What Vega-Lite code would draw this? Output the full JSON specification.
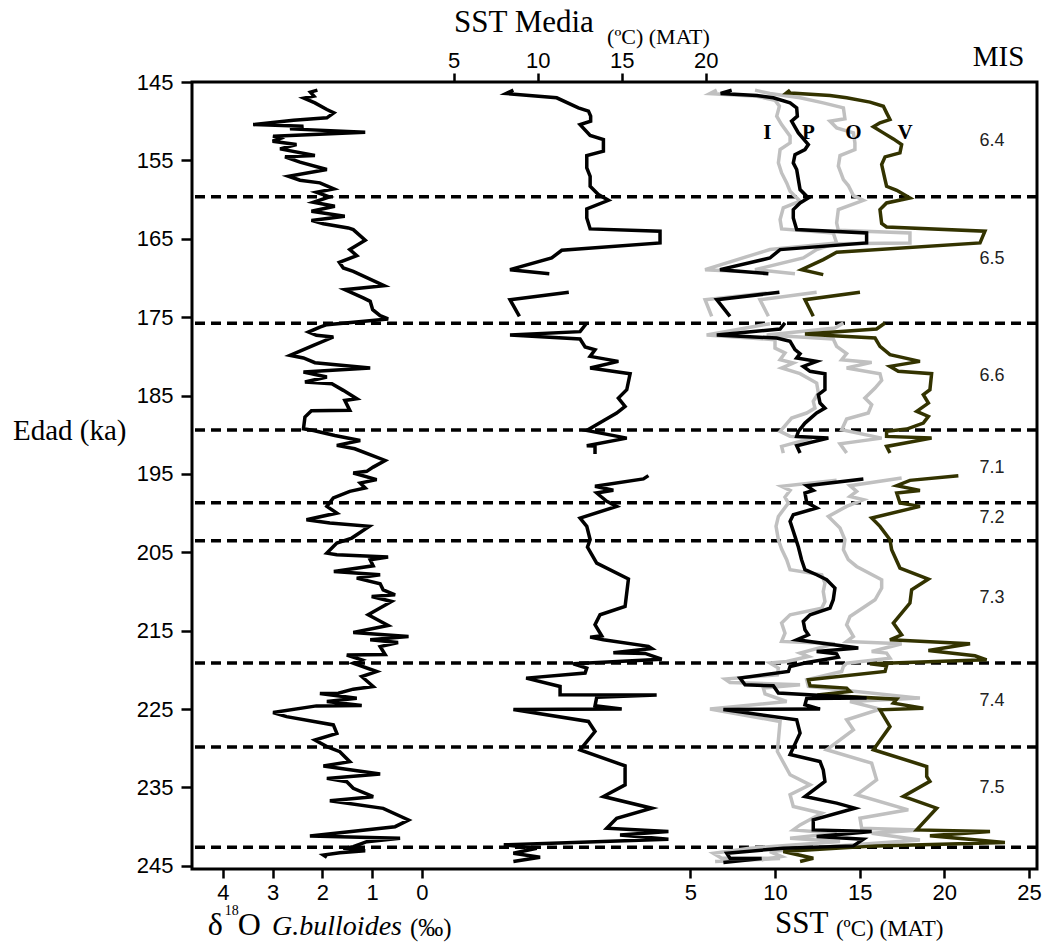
{
  "$schema": "https://vega.github.io/schema/vega-lite/v6.json",
  "width": 845,
  "height": 787,
  "autosize": "none",
  "padding": {"left": 192, "top": 82, "right": 13, "bottom": 75},
  "background": "white",
  "config": {
    "view": {"stroke": "black", "strokeWidth": 3},
    "axis": {"domain": false, "grid": false, "tickColor": "black", "tickWidth": 2.5, "tickSize": 9, "labelFont": "Liberation Sans", "labelFontSize": 22, "labelColor": "black", "labelPadding": 4, "titleColor": "black"}
  },
  "datasets": {
    "bounds": [{"age": 159.65}, {"age": 175.78}, {"age": 189.41}, {"age": 198.68}, {"age": 203.53}, {"age": 219.11}, {"age": 229.84}, {"age": 242.61}],
    "mis": [{"mis": "6.4", "age": 152.56}, {"mis": "6.5", "age": 167.57}, {"mis": "6.6", "age": 182.55}, {"mis": "7.1", "age": 194.3}, {"mis": "7.2", "age": 200.62}, {"mis": "7.3", "age": 210.84}, {"mis": "7.4", "age": 224.0}, {"mis": "7.5", "age": 235.08}],
    "lab": [{"t": "I", "age": 151.5, "v": 9.55}, {"t": "P", "age": 151.5, "v": 11.97}, {"t": "O", "age": 151.5, "v": 14.63}, {"t": "V", "age": 151.5, "v": 17.69}],
    "d18o": [
      {"age":146.04,"v":2.10},{"age":146.30,"v":2.24},{"age":146.81,"v":2.17},{"age":147.06,"v":2.37},{"age":147.66,"v":2.15},{"age":148.51,"v":1.91},{"age":148.94,"v":1.77},{"age":149.57,"v":1.91},{"age":149.87,"v":2.58},{"age":150.43,"v":3.39},{"age":150.64,"v":2.38},{"age":150.98,"v":2.65},{"age":151.40,"v":1.14},{"age":151.91,"v":2.99},{"age":152.21,"v":2.85},{"age":152.55,"v":3.00},{"age":152.98,"v":2.52},{"age":153.53,"v":2.85},{"age":154.38,"v":2.15},{"age":154.55,"v":2.75},{"age":155.23,"v":2.45},{"age":156.17,"v":1.91},{"age":157.02,"v":2.68},{"age":157.53,"v":2.45},{"age":157.87,"v":2.05},{"age":158.64,"v":1.77},{"age":159.06,"v":2.12},{"age":159.66,"v":1.86},{"age":160.34,"v":2.18},{"age":160.85,"v":1.75},{"age":161.49,"v":2.22},{"age":162.13,"v":1.55},{"age":162.66,"v":2.22},{"age":163.09,"v":1.98},{"age":163.62,"v":1.48},{"age":163.83,"v":1.38},{"age":165.19,"v":1.14},{"age":166.38,"v":1.45},{"age":167.15,"v":1.31},{"age":168.00,"v":1.66},{"age":168.72,"v":1.58},{"age":169.15,"v":1.38},{"age":170.98,"v":0.76},{"age":171.49,"v":1.55},{"age":172.55,"v":1.18},{"age":172.98,"v":1.04},{"age":174.04,"v":0.99},{"age":174.81,"v":0.84},{"age":175.23,"v":0.68},{"age":175.96,"v":1.91},{"age":176.26,"v":2.05},{"age":176.90,"v":2.28},{"age":177.32,"v":2.12},{"age":177.53,"v":1.78},{"age":178.60,"v":2.18},{"age":179.87,"v":2.65},{"age":180.21,"v":2.38},{"age":180.81,"v":2.15},{"age":181.49,"v":1.04},{"age":182.00,"v":2.38},{"age":182.64,"v":1.91},{"age":183.28,"v":2.35},{"age":183.49,"v":1.81},{"age":184.34,"v":1.58},{"age":185.40,"v":1.31},{"age":185.62,"v":1.55},{"age":186.89,"v":1.45},{"age":186.95,"v":2.22},{"age":187.74,"v":2.35},{"age":189.23,"v":2.38},{"age":189.45,"v":2.18},{"age":190.09,"v":1.75},{"age":190.73,"v":1.24},{"age":191.36,"v":1.71},{"age":191.79,"v":1.35},{"age":193.28,"v":0.74},{"age":194.13,"v":0.98},{"age":194.67,"v":1.11},{"age":194.88,"v":1.38},{"age":195.73,"v":0.91},{"age":196.16,"v":1.24},{"age":196.80,"v":1.14},{"age":197.22,"v":1.45},{"age":198.07,"v":1.78},{"age":199.14,"v":1.91},{"age":199.99,"v":1.71},{"age":200.84,"v":2.32},{"age":201.27,"v":1.85},{"age":201.69,"v":1.06},{"age":203.18,"v":1.41},{"age":203.82,"v":1.71},{"age":205.10,"v":1.91},{"age":205.31,"v":1.71},{"age":205.61,"v":0.68},{"age":205.95,"v":1.04},{"age":206.72,"v":0.98},{"age":207.44,"v":1.77},{"age":207.87,"v":0.84},{"age":208.29,"v":1.31},{"age":209.02,"v":0.84},{"age":209.78,"v":0.78},{"age":210.42,"v":0.54},{"age":210.63,"v":1.01},{"age":211.27,"v":0.61},{"age":212.97,"v":1.08},{"age":214.33,"v":0.68},{"age":215.23,"v":1.38},{"age":215.74,"v":0.27},{"age":216.16,"v":1.04},{"age":216.50,"v":0.48},{"age":217.02,"v":0.84},{"age":218.05,"v":0.74},{"age":218.10,"v":1.51},{"age":218.72,"v":1.21},{"age":219.14,"v":1.38},{"age":220.21,"v":0.91},{"age":220.84,"v":1.21},{"age":222.12,"v":0.98},{"age":222.46,"v":1.38},{"age":222.97,"v":1.68},{"age":223.00,"v":2.05},{"age":223.61,"v":1.31},{"age":224.04,"v":1.91},{"age":224.55,"v":1.21},{"age":224.59,"v":2.12},{"age":225.44,"v":2.99},{"age":225.96,"v":2.72},{"age":227.02,"v":1.78},{"age":228.09,"v":1.71},{"age":228.94,"v":2.15},{"age":229.79,"v":1.91},{"age":230.43,"v":1.65},{"age":231.71,"v":1.45},{"age":232.26,"v":1.98},{"age":233.28,"v":0.84},{"age":233.84,"v":1.91},{"age":234.26,"v":1.51},{"age":235.11,"v":1.38},{"age":236.18,"v":0.98},{"age":236.69,"v":1.85},{"age":237.66,"v":0.78},{"age":239.15,"v":0.27},{"age":240.00,"v":0.54},{"age":241.19,"v":2.25},{"age":241.49,"v":0.44},{"age":241.92,"v":1.11},{"age":242.56,"v":1.38},{"age":242.77,"v":1.58},{"age":243.07,"v":1.14},{"age":243.32,"v":1.65},{"age":243.62,"v":1.98},{"age":243.91,"v":1.91}
    ],
    "media": [
      {"seg":1,"age":146.04,"v":8.55},{"seg":1,"age":146.47,"v":8.12},{"seg":1,"age":147.02,"v":11.13},{"seg":1,"age":148.30,"v":12.42},{"seg":1,"age":148.72,"v":13.02},{"seg":1,"age":149.36,"v":13.15},{"seg":1,"age":150.00,"v":13.15},{"seg":1,"age":150.43,"v":12.52},{"seg":1,"age":151.83,"v":13.12},{"seg":1,"age":152.34,"v":13.91},{"seg":1,"age":153.83,"v":13.91},{"seg":1,"age":154.38,"v":12.92},{"seg":1,"age":155.96,"v":12.92},{"seg":1,"age":157.02,"v":13.12},{"seg":1,"age":158.30,"v":13.12},{"seg":1,"age":159.36,"v":13.61},{"seg":1,"age":160.09,"v":14.21},{"seg":1,"age":161.19,"v":12.92},{"seg":1,"age":162.34,"v":12.92},{"seg":1,"age":163.74,"v":13.12},{"seg":1,"age":164.04,"v":17.28},{"seg":1,"age":165.53,"v":17.28},{"seg":1,"age":166.47,"v":11.43},{"seg":1,"age":167.45,"v":10.83},{"seg":1,"age":168.94,"v":8.35},{"seg":1,"age":169.45,"v":10.69},
      {"seg":2,"age":171.83,"v":11.85},{"seg":2,"age":172.77,"v":8.35},{"seg":2,"age":174.89,"v":8.91},
      {"seg":3,"age":175.74,"v":12.92},{"seg":3,"age":176.85,"v":12.52},{"seg":3,"age":177.28,"v":8.35},{"seg":3,"age":177.79,"v":12.52},{"seg":3,"age":178.81,"v":12.82},{"seg":3,"age":179.15,"v":13.41},{"seg":3,"age":180.00,"v":13.12},{"seg":3,"age":180.64,"v":14.80},{"seg":3,"age":181.49,"v":13.12},{"seg":3,"age":182.21,"v":15.50},{"seg":3,"age":184.26,"v":15.30},{"seg":3,"age":185.32,"v":14.80},{"seg":3,"age":186.38,"v":15.20},{"seg":3,"age":187.23,"v":14.70},{"seg":3,"age":188.09,"v":14.01},{"seg":3,"age":189.45,"v":12.92},{"seg":3,"age":190.43,"v":15.30},{"seg":3,"age":191.40,"v":12.92},{"seg":3,"age":191.45,"v":13.41},{"seg":3,"age":192.47,"v":13.41},
      {"seg":4,"age":195.22,"v":16.59},{"seg":4,"age":195.64,"v":16.29},{"seg":4,"age":196.58,"v":13.41},{"seg":4,"age":197.09,"v":14.50},{"seg":4,"age":197.43,"v":13.51},{"seg":4,"age":198.50,"v":14.11},{"seg":4,"age":199.14,"v":14.70},{"seg":4,"age":200.63,"v":12.52},{"seg":4,"age":201.69,"v":12.92},{"seg":4,"age":203.39,"v":13.12},{"seg":4,"age":204.33,"v":12.96},{"seg":4,"age":206.37,"v":13.51},{"seg":4,"age":208.41,"v":15.40},{"seg":4,"age":211.90,"v":15.20},{"seg":4,"age":212.97,"v":13.71},{"seg":4,"age":214.24,"v":13.41},{"seg":4,"age":215.65,"v":13.81},{"seg":4,"age":215.82,"v":13.12},{"seg":4,"age":216.16,"v":13.91},{"seg":4,"age":217.00,"v":16.59},{"seg":4,"age":217.27,"v":16.79},{"seg":4,"age":217.82,"v":14.50},{"seg":4,"age":217.90,"v":16.39},{"seg":4,"age":218.63,"v":17.38},{"seg":4,"age":219.22,"v":12.12},{"seg":4,"age":219.77,"v":12.92},{"seg":4,"age":220.41,"v":12.82},{"seg":4,"age":221.05,"v":9.31},{"seg":4,"age":222.11,"v":11.33},{"seg":4,"age":223.18,"v":11.33},{"seg":4,"age":223.20,"v":17.08},{"seg":4,"age":223.50,"v":13.51},{"seg":4,"age":224.58,"v":13.41},{"seg":4,"age":225.00,"v":15.00},{"seg":4,"age":225.05,"v":8.55},{"seg":4,"age":226.58,"v":13.02},{"seg":4,"age":227.86,"v":13.41},{"seg":4,"age":230.20,"v":12.52},{"seg":4,"age":232.24,"v":15.20},{"seg":4,"age":234.67,"v":15.20},{"seg":4,"age":236.16,"v":13.91},{"seg":4,"age":237.65,"v":16.79},{"seg":4,"age":238.92,"v":14.70},{"seg":4,"age":240.20,"v":14.11},{"seg":4,"age":240.63,"v":17.78},{"seg":4,"age":241.05,"v":14.90},{"seg":4,"age":241.61,"v":17.78},{"seg":4,"age":242.32,"v":7.98},{"seg":4,"age":242.75,"v":9.94},{"seg":4,"age":243.39,"v":8.55},{"seg":4,"age":243.90,"v":10.14},{"seg":4,"age":244.45,"v":8.55}
    ],
    "I": [
      {"seg":1,"age":146.04,"v":6.56},{"seg":1,"age":146.47,"v":6.16},{"seg":1,"age":146.81,"v":8.92},{"seg":1,"age":147.32,"v":10.00},{"seg":1,"age":148.09,"v":10.26},{"seg":1,"age":149.36,"v":10.10},{"seg":1,"age":150.43,"v":10.39},{"seg":1,"age":151.91,"v":10.89},{"seg":1,"age":152.77,"v":10.89},{"seg":1,"age":153.62,"v":10.30},{"seg":1,"age":155.32,"v":10.20},{"seg":1,"age":156.60,"v":10.39},{"seg":1,"age":157.87,"v":10.69},{"seg":1,"age":158.94,"v":10.89},{"seg":1,"age":160.21,"v":11.48},{"seg":1,"age":161.06,"v":10.49},{"seg":1,"age":162.55,"v":10.30},{"seg":1,"age":163.74,"v":10.39},{"seg":1,"age":164.26,"v":13.44},{"seg":1,"age":165.53,"v":13.64},{"seg":1,"age":166.38,"v":9.70},{"seg":1,"age":166.89,"v":8.92},{"seg":1,"age":168.94,"v":5.87},{"seg":1,"age":169.19,"v":7.93},
      {"seg":2,"age":171.91,"v":9.51},{"seg":2,"age":172.77,"v":5.87},{"seg":2,"age":174.89,"v":6.26},
      {"seg":3,"age":175.83,"v":9.70},{"seg":3,"age":177.28,"v":5.96},{"seg":3,"age":177.87,"v":10.00},{"seg":3,"age":178.94,"v":10.00},{"seg":3,"age":179.57,"v":10.59},{"seg":3,"age":180.43,"v":10.30},{"seg":3,"age":180.85,"v":11.08},{"seg":3,"age":181.49,"v":10.39},{"seg":3,"age":182.21,"v":11.48},{"seg":3,"age":183.40,"v":12.46},{"seg":3,"age":184.68,"v":12.56},{"seg":3,"age":185.74,"v":12.26},{"seg":3,"age":186.60,"v":12.36},{"seg":3,"age":187.23,"v":11.87},{"seg":3,"age":187.87,"v":10.98},{"seg":3,"age":189.57,"v":10.30},{"seg":3,"age":190.21,"v":10.89},{"seg":3,"age":190.43,"v":12.17},{"seg":3,"age":191.49,"v":10.39},{"seg":3,"age":192.34,"v":10.49},
      {"seg":4,"age":195.82,"v":13.64},{"seg":4,"age":196.58,"v":10.39},{"seg":4,"age":197.10,"v":10.89},{"seg":4,"age":197.95,"v":10.59},{"seg":4,"age":198.71,"v":10.79},{"seg":4,"age":200.42,"v":10.20},{"seg":4,"age":201.69,"v":10.06},{"seg":4,"age":203.39,"v":10.20},{"seg":4,"age":204.58,"v":10.39},{"seg":4,"age":205.94,"v":10.69},{"seg":4,"age":207.22,"v":10.89},{"seg":4,"age":207.86,"v":12.76},{"seg":4,"age":208.92,"v":12.95},{"seg":4,"age":209.99,"v":12.85},{"seg":4,"age":211.26,"v":12.95},{"seg":4,"age":212.12,"v":12.76},{"seg":4,"age":212.97,"v":10.89},{"seg":4,"age":214.03,"v":10.39},{"seg":4,"age":215.31,"v":10.59},{"seg":4,"age":216.37,"v":10.39},{"seg":4,"age":216.67,"v":13.54},{"seg":4,"age":217.86,"v":11.48},{"seg":4,"age":218.29,"v":11.97},{"seg":4,"age":218.93,"v":10.69},{"seg":4,"age":219.13,"v":9.70},{"seg":4,"age":219.77,"v":10.20},{"seg":4,"age":220.62,"v":10.14},{"seg":4,"age":221.17,"v":7.05},{"seg":4,"age":221.60,"v":7.34},{"seg":4,"age":221.90,"v":11.48},{"seg":4,"age":222.32,"v":9.31},{"seg":4,"age":223.05,"v":9.41},{"seg":4,"age":224.03,"v":10.69},{"seg":4,"age":225.00,"v":6.16},{"seg":4,"age":226.58,"v":10.30},{"seg":4,"age":230.41,"v":10.14},{"seg":4,"age":233.38,"v":10.89},{"seg":4,"age":234.66,"v":12.07},{"seg":4,"age":235.93,"v":10.89},{"seg":4,"age":237.43,"v":11.08},{"seg":4,"age":238.28,"v":12.76},{"seg":4,"age":239.77,"v":11.48},{"seg":4,"age":240.41,"v":11.08},{"seg":4,"age":240.83,"v":13.64},{"seg":4,"age":241.47,"v":10.89},{"seg":4,"age":241.90,"v":13.84},{"seg":4,"age":242.75,"v":8.52},{"seg":4,"age":243.39,"v":6.36},{"seg":4,"age":244.03,"v":6.85},{"seg":4,"age":244.05,"v":10.30},{"seg":4,"age":244.45,"v":6.46}
    ],
    "O": [
      {"seg":1,"age":146.04,"v":8.82},{"seg":1,"age":146.47,"v":9.70},{"seg":1,"age":147.02,"v":11.48},{"seg":1,"age":147.66,"v":12.85},{"seg":1,"age":148.30,"v":14.04},{"seg":1,"age":149.70,"v":14.13},{"seg":1,"age":150.00,"v":13.25},{"seg":1,"age":150.85,"v":13.64},{"seg":1,"age":151.49,"v":14.63},{"seg":1,"age":152.77,"v":14.72},{"seg":1,"age":153.62,"v":14.72},{"seg":1,"age":154.38,"v":13.84},{"seg":1,"age":155.74,"v":13.74},{"seg":1,"age":157.45,"v":14.04},{"seg":1,"age":158.21,"v":14.33},{"seg":1,"age":159.49,"v":14.63},{"seg":1,"age":160.09,"v":15.22},{"seg":1,"age":161.28,"v":13.74},{"seg":1,"age":162.98,"v":13.64},{"seg":1,"age":163.91,"v":13.74},{"seg":1,"age":164.26,"v":17.97},{"seg":1,"age":165.53,"v":17.97},{"seg":1,"age":165.62,"v":13.54},{"seg":1,"age":166.38,"v":12.46},{"seg":1,"age":167.45,"v":11.67},{"seg":1,"age":168.94,"v":8.82},{"seg":1,"age":169.45,"v":11.18},
      {"seg":2,"age":171.83,"v":12.46},{"seg":2,"age":172.77,"v":9.11},{"seg":2,"age":174.89,"v":9.61},
      {"seg":3,"age":175.74,"v":14.04},{"seg":3,"age":176.38,"v":13.54},{"seg":3,"age":177.28,"v":9.51},{"seg":3,"age":177.79,"v":13.44},{"seg":3,"age":178.72,"v":13.64},{"seg":3,"age":179.66,"v":14.23},{"seg":3,"age":180.43,"v":13.94},{"seg":3,"age":180.77,"v":15.71},{"seg":3,"age":181.49,"v":14.23},{"seg":3,"age":182.21,"v":16.20},{"seg":3,"age":183.06,"v":16.30},{"seg":3,"age":184.04,"v":15.91},{"seg":3,"age":185.32,"v":15.31},{"seg":3,"age":186.17,"v":15.71},{"seg":3,"age":187.23,"v":15.51},{"seg":3,"age":188.00,"v":14.23},{"seg":3,"age":189.36,"v":13.94},{"seg":3,"age":190.43,"v":16.30},{"seg":3,"age":191.15,"v":13.84},{"seg":3,"age":192.34,"v":14.23},
      {"seg":4,"age":195.52,"v":17.48},{"seg":4,"age":196.50,"v":14.43},{"seg":4,"age":197.22,"v":14.82},{"seg":4,"age":197.86,"v":14.43},{"seg":4,"age":198.29,"v":15.22},{"seg":4,"age":199.14,"v":14.23},{"seg":4,"age":200.42,"v":13.15},{"seg":4,"age":201.90,"v":13.84},{"seg":4,"age":203.39,"v":14.13},{"seg":4,"age":204.67,"v":14.04},{"seg":4,"age":205.94,"v":14.33},{"seg":4,"age":206.80,"v":14.82},{"seg":4,"age":208.50,"v":16.30},{"seg":4,"age":209.56,"v":16.30},{"seg":4,"age":211.05,"v":15.91},{"seg":4,"age":213.18,"v":14.43},{"seg":4,"age":214.24,"v":14.23},{"seg":4,"age":215.73,"v":14.63},{"seg":4,"age":216.37,"v":14.23},{"seg":4,"age":216.67,"v":17.48},{"seg":4,"age":217.65,"v":15.71},{"seg":4,"age":217.86,"v":16.59},{"seg":4,"age":218.50,"v":16.79},{"seg":4,"age":219.14,"v":14.23},{"seg":4,"age":219.56,"v":14.04},{"seg":4,"age":220.20,"v":13.94},{"seg":4,"age":221.26,"v":11.87},{"seg":4,"age":222.11,"v":11.97},{"seg":4,"age":222.62,"v":14.23},{"seg":4,"age":223.60,"v":18.56},{"seg":4,"age":224.03,"v":14.43},{"seg":4,"age":225.00,"v":16.20},{"seg":4,"age":226.36,"v":14.23},{"seg":4,"age":227.64,"v":14.63},{"seg":4,"age":230.19,"v":13.05},{"seg":4,"age":231.90,"v":15.71},{"seg":4,"age":234.02,"v":16.00},{"seg":4,"age":235.93,"v":14.82},{"seg":4,"age":237.85,"v":17.87},{"seg":4,"age":238.92,"v":15.02},{"seg":4,"age":240.20,"v":15.12},{"seg":4,"age":240.41,"v":18.56},{"seg":4,"age":240.83,"v":15.71},{"seg":4,"age":241.70,"v":18.56},{"seg":4,"age":242.53,"v":13.25},{"seg":4,"age":243.17,"v":9.70},{"seg":4,"age":243.81,"v":10.39},{"seg":4,"age":244.24,"v":9.21}
    ],
    "V": [
      {"seg":1,"age":146.04,"v":10.89},{"seg":1,"age":146.38,"v":10.69},{"seg":1,"age":146.72,"v":13.25},{"seg":1,"age":147.02,"v":14.23},{"seg":1,"age":147.57,"v":15.61},{"seg":1,"age":148.09,"v":16.40},{"seg":1,"age":148.94,"v":16.59},{"seg":1,"age":149.79,"v":16.79},{"seg":1,"age":150.21,"v":16.20},{"seg":1,"age":150.72,"v":15.81},{"seg":1,"age":151.49,"v":16.40},{"seg":1,"age":152.26,"v":16.99},{"seg":1,"age":152.98,"v":17.48},{"seg":1,"age":154.04,"v":17.38},{"seg":1,"age":154.55,"v":16.50},{"seg":1,"age":155.53,"v":16.30},{"seg":1,"age":157.45,"v":16.50},{"seg":1,"age":158.30,"v":16.59},{"seg":1,"age":158.81,"v":17.19},{"seg":1,"age":159.79,"v":17.97},{"seg":1,"age":160.43,"v":16.59},{"seg":1,"age":161.28,"v":16.20},{"seg":1,"age":163.06,"v":16.30},{"seg":1,"age":163.49,"v":16.59},{"seg":1,"age":164.04,"v":22.40},{"seg":1,"age":165.53,"v":22.11},{"seg":1,"age":166.72,"v":13.64},{"seg":1,"age":167.66,"v":12.85},{"seg":1,"age":168.94,"v":11.57},{"seg":1,"age":169.57,"v":12.85},
      {"seg":2,"age":171.83,"v":15.02},{"seg":2,"age":172.77,"v":11.77},{"seg":2,"age":174.89,"v":12.26},
      {"seg":3,"age":175.74,"v":16.50},{"seg":3,"age":176.51,"v":16.00},{"seg":3,"age":177.15,"v":11.77},{"seg":3,"age":177.36,"v":13.44},{"seg":3,"age":177.66,"v":15.91},{"seg":3,"age":178.72,"v":16.20},{"seg":3,"age":179.79,"v":16.79},{"seg":3,"age":180.64,"v":18.56},{"seg":3,"age":181.28,"v":16.79},{"seg":3,"age":181.91,"v":17.28},{"seg":3,"age":182.21,"v":19.25},{"seg":3,"age":184.26,"v":19.15},{"seg":3,"age":184.89,"v":18.76},{"seg":3,"age":185.96,"v":19.06},{"seg":3,"age":187.02,"v":18.37},{"seg":3,"age":187.66,"v":19.06},{"seg":3,"age":188.51,"v":18.76},{"seg":3,"age":189.28,"v":17.78},{"seg":3,"age":189.57,"v":16.59},{"seg":3,"age":190.21,"v":16.59},{"seg":3,"age":190.43,"v":19.25},{"seg":3,"age":191.49,"v":16.59},{"seg":3,"age":192.34,"v":16.79},
      {"seg":4,"age":195.22,"v":20.83},{"seg":4,"age":195.82,"v":17.97},{"seg":4,"age":196.50,"v":17.19},{"seg":4,"age":197.10,"v":18.56},{"seg":4,"age":197.44,"v":17.19},{"seg":4,"age":198.71,"v":17.38},{"seg":4,"age":199.14,"v":18.56},{"seg":4,"age":200.63,"v":15.71},{"seg":4,"age":201.69,"v":16.20},{"seg":4,"age":203.39,"v":16.79},{"seg":4,"age":204.67,"v":16.89},{"seg":4,"age":207.01,"v":17.38},{"seg":4,"age":208.41,"v":19.06},{"seg":4,"age":209.78,"v":18.07},{"seg":4,"age":211.48,"v":17.97},{"seg":4,"age":214.03,"v":16.99},{"seg":4,"age":215.52,"v":17.48},{"seg":4,"age":216.16,"v":16.79},{"seg":4,"age":216.67,"v":21.52},{"seg":4,"age":217.52,"v":19.06},{"seg":4,"age":218.20,"v":21.81},{"seg":4,"age":218.71,"v":22.50},{"seg":4,"age":219.22,"v":15.61},{"seg":4,"age":219.47,"v":16.59},{"seg":4,"age":220.20,"v":16.50},{"seg":4,"age":221.26,"v":11.97},{"seg":4,"age":222.03,"v":12.07},{"seg":4,"age":222.32,"v":14.23},{"seg":4,"age":222.75,"v":14.43},{"seg":4,"age":223.20,"v":12.50},{"seg":4,"age":223.73,"v":17.19},{"seg":4,"age":224.24,"v":16.99},{"seg":4,"age":224.90,"v":18.76},{"seg":4,"age":225.10,"v":16.20},{"seg":4,"age":227.23,"v":16.79},{"seg":4,"age":230.19,"v":15.81},{"seg":4,"age":232.32,"v":18.96},{"seg":4,"age":233.59,"v":18.96},{"seg":4,"age":234.22,"v":19.15},{"seg":4,"age":236.15,"v":17.58},{"seg":4,"age":237.64,"v":19.55},{"seg":4,"age":240.41,"v":18.37},{"seg":4,"age":240.62,"v":22.70},{"seg":4,"age":241.17,"v":19.15},{"seg":4,"age":242.02,"v":23.58},{"seg":4,"age":242.45,"v":16.00},{"seg":4,"age":243.17,"v":10.49},{"seg":4,"age":244.03,"v":12.26},{"seg":4,"age":244.45,"v":11.48}
    ],
    "P": [
      {"seg":1,"age":146.04,"v":7.44},{"seg":1,"age":146.47,"v":6.79},{"seg":1,"age":146.72,"v":8.92},{"seg":1,"age":147.02,"v":9.90},{"seg":1,"age":147.66,"v":10.89},{"seg":1,"age":148.30,"v":11.28},{"seg":1,"age":149.36,"v":11.32},{"seg":1,"age":150.00,"v":10.98},{"seg":1,"age":151.49,"v":11.38},{"seg":1,"age":152.98,"v":11.97},{"seg":1,"age":153.62,"v":11.77},{"seg":1,"age":154.26,"v":11.18},{"seg":1,"age":155.32,"v":11.08},{"seg":1,"age":156.17,"v":11.28},{"seg":1,"age":157.45,"v":11.38},{"seg":1,"age":158.72,"v":11.48},{"seg":1,"age":159.79,"v":11.97},{"seg":1,"age":160.43,"v":11.48},{"seg":1,"age":161.28,"v":11.08},{"seg":1,"age":162.34,"v":11.08},{"seg":1,"age":163.83,"v":11.28},{"seg":1,"age":164.26,"v":15.41},{"seg":1,"age":165.53,"v":15.41},{"seg":1,"age":166.38,"v":10.30},{"seg":1,"age":167.45,"v":9.70},{"seg":1,"age":168.94,"v":6.75},{"seg":1,"age":169.45,"v":9.61},
      {"seg":2,"age":171.83,"v":10.26},{"seg":2,"age":172.77,"v":6.56},{"seg":2,"age":174.89,"v":7.34},
      {"seg":3,"age":175.74,"v":10.59},{"seg":3,"age":176.51,"v":10.30},{"seg":3,"age":177.28,"v":6.56},{"seg":3,"age":177.66,"v":10.10},{"seg":3,"age":178.09,"v":10.89},{"seg":3,"age":179.15,"v":11.18},{"seg":3,"age":179.66,"v":11.48},{"seg":3,"age":180.21,"v":11.28},{"seg":3,"age":180.64,"v":12.46},{"seg":3,"age":181.28,"v":11.67},{"seg":3,"age":181.91,"v":12.07},{"seg":3,"age":182.21,"v":12.95},{"seg":3,"age":184.26,"v":12.95},{"seg":3,"age":184.89,"v":12.56},{"seg":3,"age":185.96,"v":12.66},{"seg":3,"age":186.60,"v":12.95},{"seg":3,"age":187.23,"v":12.46},{"seg":3,"age":188.51,"v":11.77},{"seg":3,"age":189.57,"v":11.38},{"seg":3,"age":190.21,"v":11.28},{"seg":3,"age":190.43,"v":13.15},{"seg":3,"age":191.40,"v":11.28},{"seg":3,"age":192.34,"v":11.48},
      {"seg":4,"age":195.65,"v":15.22},{"seg":4,"age":196.50,"v":11.87},{"seg":4,"age":197.10,"v":12.26},{"seg":4,"age":197.44,"v":11.77},{"seg":4,"age":198.63,"v":11.87},{"seg":4,"age":199.35,"v":12.46},{"seg":4,"age":200.20,"v":11.08},{"seg":4,"age":201.05,"v":10.89},{"seg":4,"age":202.97,"v":11.18},{"seg":4,"age":204.33,"v":11.38},{"seg":4,"age":205.94,"v":11.57},{"seg":4,"age":207.22,"v":11.77},{"seg":4,"age":207.86,"v":12.46},{"seg":4,"age":208.50,"v":13.05},{"seg":4,"age":209.56,"v":13.54},{"seg":4,"age":211.05,"v":13.44},{"seg":4,"age":212.12,"v":13.25},{"seg":4,"age":212.97,"v":12.07},{"seg":4,"age":213.82,"v":11.67},{"seg":4,"age":214.88,"v":11.77},{"seg":4,"age":215.52,"v":11.97},{"seg":4,"age":216.16,"v":11.28},{"seg":4,"age":217.22,"v":14.92},{"seg":4,"age":217.65,"v":12.46},{"seg":4,"age":217.95,"v":13.64},{"seg":4,"age":218.37,"v":13.74},{"seg":4,"age":219.05,"v":11.89},{"seg":4,"age":219.56,"v":10.89},{"seg":4,"age":220.20,"v":10.79},{"seg":4,"age":221.05,"v":7.93},{"seg":4,"age":221.90,"v":8.23},{"seg":4,"age":222.03,"v":9.90},{"seg":4,"age":222.96,"v":10.20},{"seg":4,"age":223.60,"v":15.41},{"seg":4,"age":223.65,"v":11.87},{"seg":4,"age":224.45,"v":11.77},{"seg":4,"age":225.00,"v":12.66},{"seg":4,"age":225.05,"v":6.95},{"seg":4,"age":226.36,"v":11.28},{"seg":4,"age":228.07,"v":11.48},{"seg":4,"age":230.80,"v":10.89},{"seg":4,"age":231.70,"v":12.66},{"seg":4,"age":232.75,"v":12.85},{"seg":4,"age":234.24,"v":12.95},{"seg":4,"age":236.15,"v":11.77},{"seg":4,"age":237.00,"v":13.64},{"seg":4,"age":237.64,"v":14.72},{"seg":4,"age":239.13,"v":12.26},{"seg":4,"age":240.41,"v":12.26},{"seg":4,"age":240.62,"v":15.71},{"seg":4,"age":241.26,"v":12.46},{"seg":4,"age":241.60,"v":15.22},{"seg":4,"age":242.45,"v":14.63},{"seg":4,"age":242.75,"v":10.49},{"seg":4,"age":243.39,"v":7.15},{"seg":4,"age":244.03,"v":7.34},{"seg":4,"age":244.05,"v":9.21},{"seg":4,"age":244.58,"v":6.95}
    ]
  },
  "layer": [
    {
      "data": {"name": "bounds"},
      "mark": {"type": "rule", "strokeDash": [10, 6], "strokeWidth": 3.5, "color": "black"},
      "encoding": {
        "y": {"field": "age", "type": "quantitative", "scale": {"domain": [145, 245.4], "reverse": true, "nice": false, "zero": false},
          "axis": {"values": [145, 155, 165, 175, 185, 195, 205, 215, 225, 235, 245], "tickSize": 11, "labelPadding": 8, "title": "Edad (ka)", "titleAngle": 0, "titleAlign": "right", "titleBaseline": "alphabetic", "titleX": -66, "titleY": 357, "titleFont": "Liberation Serif", "titleFontSize": 29, "titleFontWeight": "normal"}}
      }
    },
    {
      "layer": [
        {"data": {"name": "d18o"}, "mark": {"type": "line", "color": "black", "strokeWidth": 3.5},
          "encoding": {
            "x": {"field": "v", "type": "quantitative", "scale": {"domain": [-12.349, 4.618], "reverse": true, "nice": false, "zero": false}, "axis": {"orient": "bottom", "values": [4, 3, 2, 1, 0], "title": null}},
            "y": {"field": "age", "type": "quantitative", "scale": {"domain": [145, 245.4], "reverse": true, "nice": false, "zero": false}},
            "order": {"field": "age", "type": "quantitative"}}},
        {"data": {"values": [{}]}, "mark": {"type": "text", "align": "left", "baseline": "alphabetic", "dy": 66, "font": "Liberation Serif", "fontSize": 32, "color": "black"}, "encoding": {"x": {"datum": 4.30}, "y": {"datum": 245.4}, "text": {"value": "δ"}}},
        {"data": {"values": [{}]}, "mark": {"type": "text", "align": "left", "baseline": "alphabetic", "dy": 46, "font": "Liberation Serif", "fontSize": 14, "color": "black"}, "encoding": {"x": {"datum": 3.96}, "y": {"datum": 245.4}, "text": {"value": "18"}}},
        {"data": {"values": [{}]}, "mark": {"type": "text", "align": "left", "baseline": "alphabetic", "dy": 66, "font": "Liberation Serif", "fontSize": 32, "color": "black"}, "encoding": {"x": {"datum": 3.70}, "y": {"datum": 245.4}, "text": {"value": "O"}}},
        {"data": {"values": [{}]}, "mark": {"type": "text", "align": "left", "baseline": "alphabetic", "dy": 66, "font": "Liberation Serif", "fontStyle": "italic", "fontSize": 28, "color": "black"}, "encoding": {"x": {"datum": 3.01}, "y": {"datum": 245.4}, "text": {"value": "G.bulloides"}}},
        {"data": {"values": [{}]}, "mark": {"type": "text", "align": "left", "baseline": "alphabetic", "dy": 67, "font": "Liberation Serif", "fontSize": 25, "color": "black"}, "encoding": {"x": {"datum": 0.24}, "y": {"datum": 245.4}, "text": {"value": "(‰)"}}}
      ]
    },
    {
      "layer": [
        {"data": {"name": "media"}, "mark": {"type": "line", "color": "black", "strokeWidth": 3.5},
          "encoding": {
            "x": {"field": "v", "type": "quantitative", "scale": {"domain": [-10.58, 39.72], "nice": false, "zero": false}, "axis": {"orient": "top", "values": [5, 10, 15, 20], "title": null, "labelPadding": 1}},
            "y": {"field": "age", "type": "quantitative", "scale": {"domain": [145, 245.4], "reverse": true, "nice": false, "zero": false}},
            "detail": {"field": "seg", "type": "nominal"}, "order": {"field": "age", "type": "quantitative"}}},
        {"data": {"values": [{}]}, "mark": {"type": "text", "align": "left", "baseline": "alphabetic", "dy": -50, "font": "Liberation Serif", "fontSize": 31, "color": "black"}, "encoding": {"x": {"datum": 5.02}, "y": {"datum": 145}, "text": {"value": "SST Media"}}},
        {"data": {"values": [{}]}, "mark": {"type": "text", "align": "left", "baseline": "alphabetic", "dy": -38, "font": "Liberation Serif", "fontSize": 22, "color": "black"}, "encoding": {"x": {"datum": 14.13}, "y": {"datum": 145}, "text": {"value": "(ºC) (MAT)"}}}
      ]
    },
    {
      "layer": [
        {"data": {"name": "I"}, "mark": {"type": "line", "color": "#c0c0c0", "strokeWidth": 3.5},
          "encoding": {
            "x": {"field": "v", "type": "quantitative", "scale": {"domain": [-24.436, 25.475], "nice": false, "zero": false}, "axis": {"orient": "bottom", "values": [5, 10, 15, 20, 25], "title": null}},
            "y": {"field": "age", "type": "quantitative", "scale": {"domain": [145, 245.4], "reverse": true, "nice": false, "zero": false}},
            "detail": {"field": "seg", "type": "nominal"}, "order": {"field": "age", "type": "quantitative"}}},
        {"data": {"name": "O"}, "mark": {"type": "line", "color": "#c0c0c0", "strokeWidth": 3.5},
          "encoding": {
            "x": {"field": "v", "type": "quantitative", "scale": {"domain": [-24.436, 25.475], "nice": false, "zero": false}, "axis": {"orient": "bottom", "values": [5, 10, 15, 20, 25], "title": null}},
            "y": {"field": "age", "type": "quantitative", "scale": {"domain": [145, 245.4], "reverse": true, "nice": false, "zero": false}},
            "detail": {"field": "seg", "type": "nominal"}, "order": {"field": "age", "type": "quantitative"}}},
        {"data": {"name": "V"}, "mark": {"type": "line", "color": "#333300", "strokeWidth": 3.5},
          "encoding": {
            "x": {"field": "v", "type": "quantitative", "scale": {"domain": [-24.436, 25.475], "nice": false, "zero": false}, "axis": {"orient": "bottom", "values": [5, 10, 15, 20, 25], "title": null}},
            "y": {"field": "age", "type": "quantitative", "scale": {"domain": [145, 245.4], "reverse": true, "nice": false, "zero": false}},
            "detail": {"field": "seg", "type": "nominal"}, "order": {"field": "age", "type": "quantitative"}}},
        {"data": {"name": "P"}, "mark": {"type": "line", "color": "black", "strokeWidth": 3.5},
          "encoding": {
            "x": {"field": "v", "type": "quantitative", "scale": {"domain": [-24.436, 25.475], "nice": false, "zero": false}, "axis": {"orient": "bottom", "values": [5, 10, 15, 20, 25], "title": null}},
            "y": {"field": "age", "type": "quantitative", "scale": {"domain": [145, 245.4], "reverse": true, "nice": false, "zero": false}},
            "detail": {"field": "seg", "type": "nominal"}, "order": {"field": "age", "type": "quantitative"}}},
        {"data": {"name": "lab"}, "mark": {"type": "text", "align": "center", "baseline": "middle", "font": "Liberation Serif", "fontWeight": "bold", "fontSize": 21, "color": "black"},
          "encoding": {
            "x": {"field": "v", "type": "quantitative", "scale": {"domain": [-24.436, 25.475], "nice": false, "zero": false}, "axis": {"orient": "bottom", "values": [5, 10, 15, 20, 25], "title": null}},
            "y": {"field": "age", "type": "quantitative", "scale": {"domain": [145, 245.4], "reverse": true, "nice": false, "zero": false}},
            "text": {"field": "t"}}},
        {"data": {"name": "mis"}, "mark": {"type": "text", "align": "center", "baseline": "middle", "font": "Liberation Sans", "fontSize": 18, "color": "#222222"},
          "encoding": {
            "x": {"datum": 22.82},
            "y": {"field": "age", "type": "quantitative", "scale": {"domain": [145, 245.4], "reverse": true, "nice": false, "zero": false}},
            "text": {"field": "mis"}}},
        {"data": {"values": [{}]}, "mark": {"type": "text", "align": "center", "baseline": "alphabetic", "dy": -16, "font": "Liberation Serif", "fontSize": 29, "color": "black"}, "encoding": {"x": {"datum": 23.2}, "y": {"datum": 145}, "text": {"value": "MIS"}}},
        {"data": {"values": [{}]}, "mark": {"type": "text", "align": "left", "baseline": "alphabetic", "dy": 64, "font": "Liberation Serif", "fontSize": 31, "color": "black"}, "encoding": {"x": {"datum": 10.0}, "y": {"datum": 245.4}, "text": {"value": "SST"}}},
        {"data": {"values": [{}]}, "mark": {"type": "text", "align": "left", "baseline": "alphabetic", "dy": 67, "font": "Liberation Serif", "fontSize": 23, "color": "black"}, "encoding": {"x": {"datum": 13.6}, "y": {"datum": 245.4}, "text": {"value": "(ºC) (MAT)"}}}
      ]
    }
  ],
  "resolve": {"scale": {"x": "independent"}, "axis": {"x": "independent"}}
}
